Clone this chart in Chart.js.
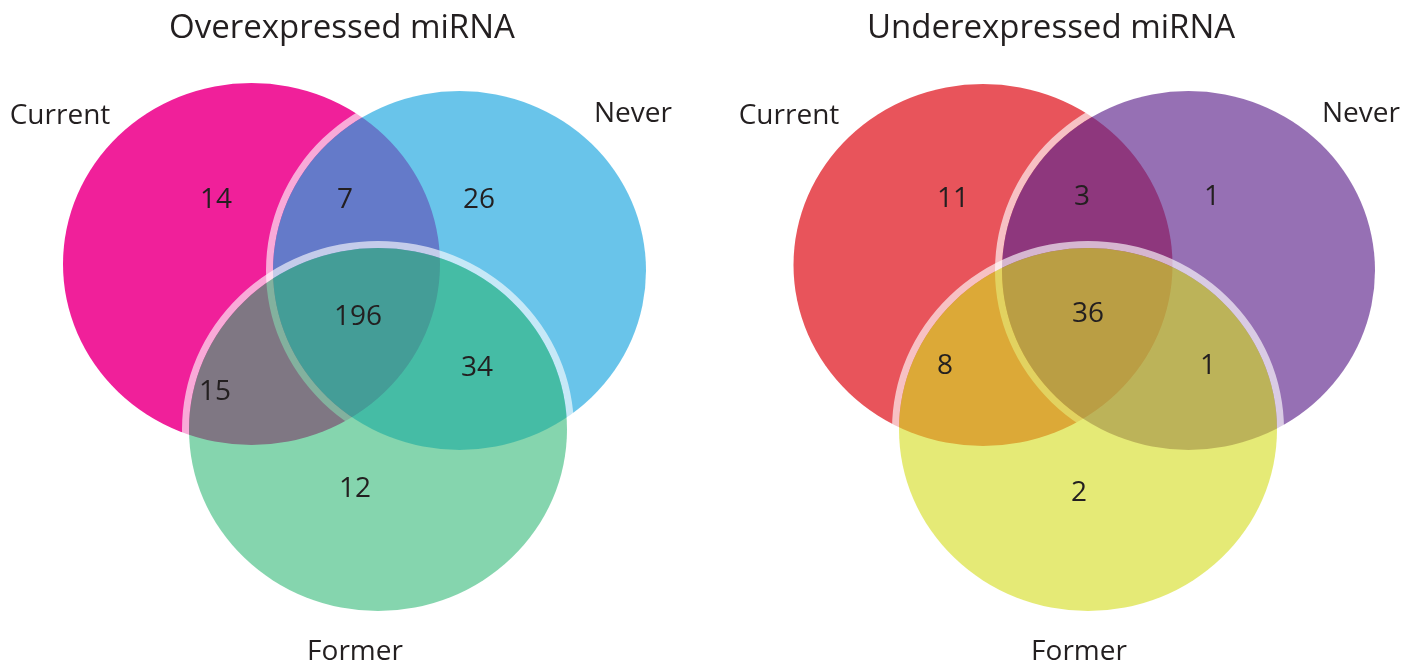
<!DOCTYPE html>
<html>
<head>
<meta charset="utf-8">
<title>Overexpressed and underexpressed miRNA</title>
<script src="https://cdn.jsdelivr.net/npm/chart.js@4.4.1/dist/chart.umd.min.js"></script>
<style>
  body { margin: 0; background: #fff; }
  .row { display: flex; width: 1418px; height: 668px; }
  canvas { display: block; }
</style>
</head>
<body>
<div class="row">
  <canvas id="over" width="684" height="668"></canvas>
  <canvas id="under" width="734" height="668"></canvas>
</div>
<script>
// smoking groups and the seven regions of each diagram
const groups = ['Current', 'Never', 'Former'];
const regions = ['Current only', 'Current & Never', 'Never only', 'Current & Former', 'All three', 'Never & Former', 'Former only'];
const overCounts = [14, 7, 26, 15, 196, 34, 12];
const underCounts = [11, 3, 1, 8, 36, 1, 2];
const titles = ['Overexpressed miRNA', 'Underexpressed miRNA'];

const TITLE_H = 56;
const INK = '#231f20';
const FONT = '"Open Sans", "Noto Sans", sans-serif';

// geometry in page pixels: circles, then where each number / name sits
const overLayout = {
  xRange: [0, 684],
  circles: [
    { x: 251.5, y: 264, rx: 188.5, ry: 181 },
    { x: 459.5, y: 270.5, rx: 186.5, ry: 179.5 },
    { x: 378, y: 429.5, rx: 189, ry: 181.5 }
  ],
  counts: [
    { x: 216, y: 200 }, { x: 345, y: 200 }, { x: 479, y: 200 },
    { x: 215, y: 392 }, { x: 358, y: 317 }, { x: 477, y: 368 }, { x: 355, y: 489 }
  ],
  names: [{ x: 60, y: 116 }, { x: 633, y: 114 }, { x: 355, y: 652 }]
};

const underLayout = {
  xRange: [684, 1418],
  circles: [
    { x: 983, y: 265, rx: 189.5, ry: 181 },
    { x: 1188.5, y: 270.5, rx: 186.5, ry: 179.5 },
    { x: 1088, y: 429.5, rx: 189, ry: 181.5 }
  ],
  counts: [
    { x: 953, y: 199 }, { x: 1082, y: 197 }, { x: 1212, y: 197 },
    { x: 945, y: 366 }, { x: 1088, y: 314 }, { x: 1208, y: 366 }, { x: 1079, y: 493 }
  ],
  names: [{ x: 789, y: 116 }, { x: 1361, y: 114 }, { x: 1079, y: 652 }]
};

const overStyle = {
  fills: ['#f0209a', 'rgba(31,167,224,0.67)', 'rgba(45,183,115,0.58)'],
  rings: [0, 7, 7],
  ringColor: 'rgba(255,255,255,0.62)'
};
const underStyle = {
  fills: ['#e8545b', 'rgba(97,40,142,0.665)', 'rgba(213,221,34,0.62)'],
  rings: [0, 7, 7],
  ringColor: 'rgba(255,255,255,0.64)'
};

const vennPlugin = {
  id: 'venn',
  beforeDatasetsDraw(chart, args, opts) {
    const ctx = chart.ctx;
    const xs = chart.scales.x, ys = chart.scales.y;
    const circles = chart.data.datasets[0].data;
    const pts = chart.getDatasetMeta(0).data;
    ctx.save();
    circles.forEach((c, i) => {
      const px = pts[i].x, py = pts[i].y;
      const rx = Math.abs(xs.getPixelForValue(c.x + c.rx) - px);
      const ry = Math.abs(ys.getPixelForValue(c.y + c.ry) - py);
      const ring = opts.rings[i];
      if (ring) {
        // white halo just outside the circle
        ctx.beginPath();
        ctx.ellipse(px, py, rx + ring, ry + ring, 0, 0, Math.PI * 2);
        ctx.moveTo(px + rx, py);
        ctx.ellipse(px, py, rx, ry, 0, 0, Math.PI * 2);
        ctx.fillStyle = opts.ringColor;
        ctx.fill('evenodd');
      }
      ctx.beginPath();
      ctx.ellipse(px, py, rx, ry, 0, 0, Math.PI * 2);
      ctx.fillStyle = opts.fills[i];
      ctx.fill();
    });
    ctx.restore();
  },
  afterDatasetsDraw(chart) {
    const ctx = chart.ctx;
    ctx.save();
    ctx.fillStyle = INK;
    ctx.textAlign = 'center';
    ctx.textBaseline = 'middle';
    ctx.font = '28px ' + FONT;
    [1, 2].forEach(d => {
      const texts = chart.data.datasets[d].texts;
      chart.getDatasetMeta(d).data.forEach((p, i) => {
        ctx.fillText(texts[i], p.x, p.y);
      });
    });
    ctx.restore();
  }
};

function makeVenn(id, title, counts, layout, style) {
  new Chart(document.getElementById(id), {
    type: 'scatter',
    data: {
      datasets: [
        { label: 'sets', data: layout.circles, pointRadius: 0 },
        { label: 'counts', data: layout.counts, texts: counts.map(String), pointRadius: 0 },
        { label: 'groups', data: layout.names, texts: groups, pointRadius: 0 }
      ]
    },
    options: {
      responsive: false,
      animation: false,
      events: [],
      layout: { padding: 0, autoPadding: false },
      scales: {
        x: { type: 'linear', min: layout.xRange[0], max: layout.xRange[1], display: false },
        y: { type: 'linear', min: TITLE_H, max: 668, reverse: true, display: false }
      },
      plugins: {
        legend: { display: false },
        tooltip: { enabled: false },
        title: {
          display: true,
          text: title,
          color: INK,
          font: { family: FONT, size: 33, weight: 'normal', lineHeight: '40px' },
          padding: { top: 9, bottom: 7 }
        },
        venn: style
      }
    },
    plugins: [vennPlugin]
  });
}

makeVenn('over', titles[0], overCounts, overLayout, overStyle);
makeVenn('under', titles[1], underCounts, underLayout, underStyle);
</script>
</body>
</html>
